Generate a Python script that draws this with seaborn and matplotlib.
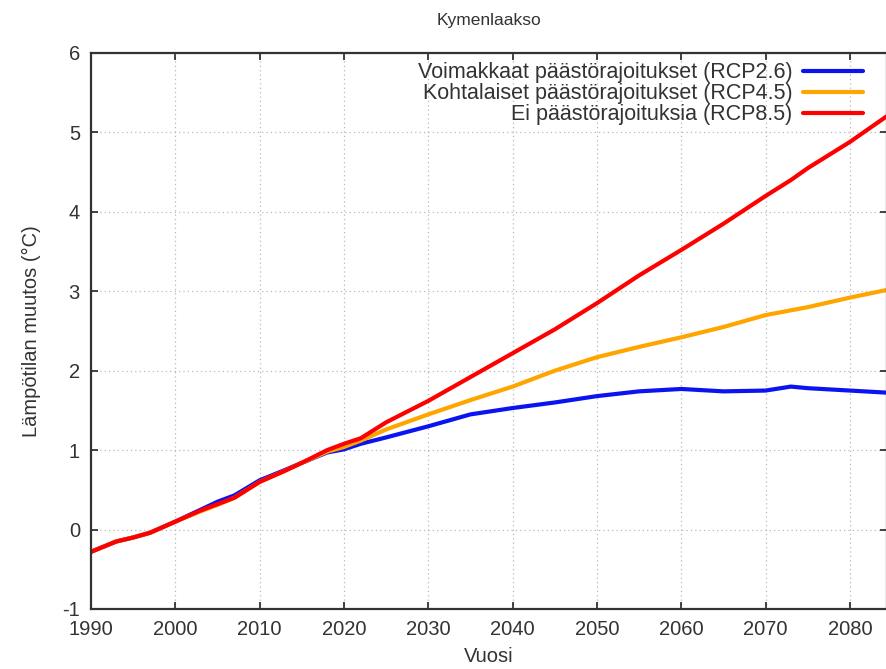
import matplotlib
matplotlib.use("Agg")
import matplotlib.pyplot as plt
import pandas as pd
import seaborn as sns

# values
years = [1990, 1993, 1995, 1997, 2000, 2003, 2005, 2007, 2010, 2013, 2015, 2018,
         2020, 2022, 2025, 2030, 2035, 2040, 2045, 2050, 2055, 2060, 2065, 2070,
         2073, 2075, 2080, 2085]
rcp26 = [-0.28, -0.15, -0.10, -0.04, 0.10, 0.25, 0.35, 0.43, 0.62, 0.75, 0.84, 0.97,
         1.01, 1.08, 1.16, 1.30, 1.45, 1.53, 1.60, 1.68, 1.74, 1.77, 1.74, 1.75,
         1.80, 1.78, 1.75, 1.72]
rcp45 = [-0.28, -0.15, -0.10, -0.04, 0.10, 0.23, 0.31, 0.40, 0.60, 0.74, 0.84, 0.98,
         1.04, 1.12, 1.26, 1.45, 1.63, 1.80, 2.00, 2.17, 2.30, 2.42, 2.55, 2.70,
         2.76, 2.80, 2.92, 3.03]
rcp85 = [-0.28, -0.15, -0.10, -0.04, 0.10, 0.24, 0.32, 0.40, 0.60, 0.74, 0.84, 1.00,
         1.08, 1.15, 1.35, 1.62, 1.92, 2.22, 2.52, 2.85, 3.20, 3.52, 3.85, 4.20,
         4.40, 4.55, 4.88, 5.25]

labels = ["Voimakkaat päästörajoitukset (RCP2.6)",
          "Kohtalaiset päästörajoitukset (RCP4.5)",
          "Ei päästörajoituksia (RCP8.5)"]
colors = ["#0a14f0", "#ffa500", "#ff0000"]
x_ticks = list(range(1990, 2081, 10))
y_ticks = list(range(-1, 7))

sns.set_style("ticks")
plt.rcParams["font.family"] = ["Liberation Sans", "DejaVu Sans"]
plt.rcParams["axes.unicode_minus"] = False

df = pd.concat([
    pd.DataFrame({"year": years, "value": vals, "scenario": lab})
    for vals, lab in zip([rcp26, rcp45, rcp85], labels)
])

fig = plt.figure(figsize=(8.87, 6.69), dpi=100)
ax = fig.add_axes([0.1026, 0.0897, 0.8974, 0.8311])

for lab, col in zip(labels, colors):
    sns.lineplot(data=df[df["scenario"] == lab], x="year", y="value",
                 color=col, linewidth=3, label=lab, ax=ax)

ax.set_xlim(1990, 2084.4)
ax.set_ylim(-1, 6)
ax.set_xticks(x_ticks)
ax.set_yticks(y_ticks)
ax.grid(True, linestyle=(0, (1, 2.5)), color="#b8b8b8", linewidth=0.9)
ax.tick_params(direction="in", length=5, width=1.2, top=True, right=True,
               labelsize=14.5, colors="#222222", labelcolor="#333333", pad=8)
for s in ax.spines.values():
    s.set_linewidth(1.6)
    s.set_color("#333333")

ax.set_title("Kymenlaakso", fontsize=12.5, color="#333333", pad=20)
ax.set_xlabel("Vuosi", fontsize=14.5, color="#333333", labelpad=6)
ax.set_ylabel("Lämpötilan muutos (°C)", fontsize=14.5, color="#333333", labelpad=15)

leg = ax.legend(loc="upper right", bbox_to_anchor=(0.985, 1.005), frameon=False,
                markerfirst=False, fontsize=15.5, handlelength=2.8,
                handletextpad=0.5, labelspacing=0.0, borderaxespad=0.15)
for t in leg.get_texts():
    t.set_color("#333333")

fig.savefig("out.png", dpi=100)
